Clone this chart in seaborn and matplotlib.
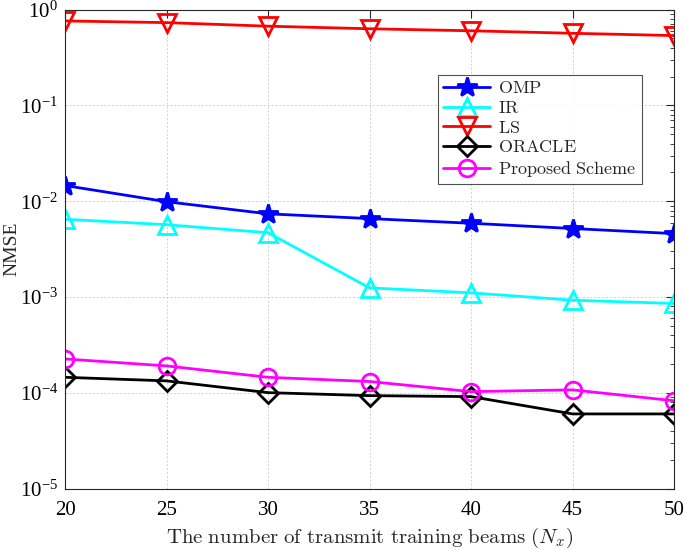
import numpy as np
import pandas as pd
import matplotlib
matplotlib.use("Agg")
import matplotlib.pyplot as plt
import seaborn as sns
from matplotlib.ticker import LogLocator, NullFormatter, FixedLocator

sns.set_theme(style="white")
plt.rcParams['font.family'] = ['Liberation Serif', 'DejaVu Serif']
plt.rcParams['mathtext.fontset'] = 'cm'

beams = [20, 25, 30, 35, 40, 45, 50]
omp = [0.0146, 0.0099, 0.0074, 0.0066, 0.0059, 0.0052, 0.0046]
ir = [0.0065, 0.0057, 0.0047, 0.00125, 0.00111, 0.00093, 0.00086]
ls = [0.76, 0.73, 0.67, 0.63, 0.60, 0.565, 0.535]
oracle = [0.000146, 0.000134, 0.000101, 0.000094, 0.0000918, 0.0000606, 0.0000606]
proposed = [0.000227, 0.000192, 0.000146, 0.000132, 0.0001035, 0.000108, 0.0000831]

names = ["OMP", "IR", "LS", "ORACLE", "Proposed Scheme"]
series = [omp, ir, ls, oracle, proposed]
colors = ["#0000ff", "#00ffff", "#ff0000", "#000000", "#ff00ff"]
markers = ["*", "^", "v", "D", "o"]
msizes = [15, 13, 13, 10, 12]

fig = plt.figure(figsize=(6.85, 5.5), dpi=100)
ax = fig.add_axes([0.0949, 0.111, 0.8891, 0.8717])

for name, vals, c, m, ms in zip(names, series, colors, markers, msizes):
    df = pd.DataFrame({"x": beams, "y": vals})
    filled = (m == "*")
    sns.lineplot(data=df, x="x", y="y", ax=ax, color=c, linewidth=2,
                 marker=m, markersize=ms, markeredgewidth=2,
                 markerfacecolor=c if filled else "none", markeredgecolor=c,
                 label=r"$\mathrm{" + name.replace(" ", r"\ ") + "}$")

ax.set_yscale("log")
ax.set_xlim(20, 50)
ax.set_ylim(1e-5, 1)
ax.xaxis.set_major_locator(FixedLocator(beams))
ax.set_xticklabels([str(b) for b in beams])
ax.yaxis.set_major_locator(LogLocator(base=10, numticks=10))
ax.yaxis.set_minor_locator(LogLocator(base=10, subs=np.arange(2, 10), numticks=20))
ax.yaxis.set_minor_formatter(NullFormatter())
ax.tick_params(axis="both", which="both", direction="in", top=True, right=True,
               colors="#262626", labelcolor="black")
ax.tick_params(axis="both", which="major", length=6, width=0.8, labelsize=15)
ax.tick_params(axis="x", which="major", pad=9)
ax.tick_params(axis="y", which="major", pad=5)
ax.tick_params(axis="y", which="minor", length=3, width=0.6)
for s in ax.spines.values():
    s.set_color("#262626")
    s.set_linewidth(0.8)
ax.grid(True, which="major", linestyle=(0, (2, 2)), color="#d0d0d0", linewidth=0.7)

ax.set_xlabel(r"$\mathrm{The\ number\ of\ transmit\ training\ beams\ }(N_x)$",
              fontsize=15)
ax.xaxis.set_label_coords(0.5, -0.077)
ax.set_ylabel("NMSE", fontsize=14)
ax.yaxis.set_label_coords(-0.074, 0.5)

leg = ax.legend(loc="upper left", bbox_to_anchor=(0.6125, 0.864), borderaxespad=0,
                fontsize=13, frameon=True, fancybox=False, edgecolor="#262626",
                handlelength=2.6, borderpad=0.3, labelspacing=0.15, handletextpad=0.4)
leg.get_frame().set_linewidth(0.8)

fig.savefig("out.png", dpi=100)
